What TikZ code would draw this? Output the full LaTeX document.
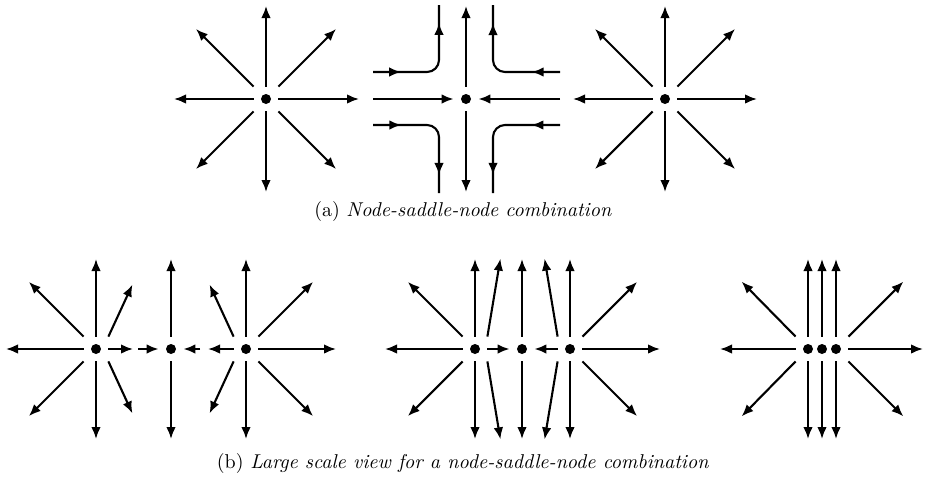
\documentclass[tikz,border=0pt]{standalone}
\usepackage{tikz}
\usetikzlibrary{arrows.meta,decorations.markings,positioning}

\begin{document}
\begin{tikzpicture}[x=0.5pt,y=-0.5pt,
  dot/.style={rectangle, minimum size=12pt, inner sep=0pt,
    path picture={\fill[black] (path picture bounding box.center) circle (2.5pt);}},
  arr/.style={line width=1.05pt, -{Latex[length=6pt,width=4.8pt]}},
  flow/.style={line width=1.05pt, rounded corners=6pt,
    decoration={markings,
      mark=at position 0.22 with {\arrow{Latex[length=6pt,width=4.8pt]}},
      mark=at position 0.86 with {\arrow{Latex[length=6pt,width=4.8pt]}}},
    postaction=decorate},
  comment/.style={rectangle, text centered}]

\useasboundingbox (0,0) rectangle (925,477);

% (a) node - saddle - node
\node[dot] (n1) at (266,99) {};
\foreach \a/\r in {0/93,90/93,180/92,270/93,45/99,135/99,225/99,315/99}
  \draw[arr] (n1) -- ++(\a:\r);

\node[dot] (n2) at (466,99) {};
\coordinate (in2w) at (373,99);
\coordinate (in2e) at (560,99);
\draw[arr] (n2) -- ++(0,-93);
\draw[arr] (n2) -- ++(0,93);
\draw[arr] (in2w) -- (n2);
\draw[arr] (in2e) -- (n2);
% hyperbolic flow round the saddle
\draw[flow] (373,72) -- (439,72) -- (439,5);
\draw[flow] (560,72) -- (493,72) -- (493,5);
\draw[flow] (373,125) -- (439,125) -- (439,193);
\draw[flow] (560,125) -- (493,125) -- (493,193);

\node[dot] (n3) at (665,99) {};
\foreach \a/\r in {0/92,90/93,180/92,270/93,45/99,135/99,225/99,315/99}
  \draw[arr] (n3) -- ++(\a:\r);

\node[comment] (capa) at (463,211) {(a) \textit{Node-saddle-node combination}};

% (b) large scale view
\node[dot] (A) at (96,349) {};
\node[dot] (B) at (171,349) {};
\node[dot] (C) at (246,349) {};
\foreach \a/\r in {180/90,90/90,270/90,135/95,225/95}
  \draw[arr] (A) -- ++(\a:\r);
\draw[arr] (A.north east) -- ++(24,-52);
\draw[arr] (A.south east) -- ++(24,52);
\draw[arr] (A) -- ++(37,0) coordinate (ab);
\draw[arr] ([xshift=2.5pt]ab) -- (B);
\draw[arr] (B) -- ++(0,-90);
\draw[arr] (B) -- ++(0,90);
\foreach \a/\r in {0/90,90/90,270/90,45/95,315/95}
  \draw[arr] (C) -- ++(\a:\r);
\draw[arr] (C.north west) -- ++(-24,-52);
\draw[arr] (C.south west) -- ++(-24,52);
\draw[arr] (C) -- ++(-38,0) coordinate (cb);
\draw[arr] ([xshift=-4pt]cb) -- (B);

\node[dot] (D) at (475,349) {};
\node[dot] (E) at (522,349) {};
\node[dot] (F) at (570,349) {};
\foreach \a/\r in {180/90,90/90,270/90,135/95,225/95}
  \draw[arr] (D) -- ++(\a:\r);
\draw[arr] (D.north east) -- ++(13,-78);
\draw[arr] (D.south east) -- ++(13,78);
\draw[arr] (D) -- (E);
\draw[arr] (E) -- ++(0,-90);
\draw[arr] (E) -- ++(0,90);
\foreach \a/\r in {0/90,90/90,270/90,45/95,315/95}
  \draw[arr] (F) -- ++(\a:\r);
\draw[arr] (F.north west) -- ++(-13,-78);
\draw[arr] (F.south west) -- ++(-13,78);
\draw[arr] (F) -- (E);

\node[dot] (G) at (808,349) {};
\node[dot] (H) at (822,349) {};
\node[dot] (K) at (836,349) {};
\foreach \n in {G,H,K} {
  \draw[arr] (\n) -- ++(0,-90);
  \draw[arr] (\n) -- ++(0,90);
}
\draw[arr] (G) -- ++(-88,0);
\draw[arr] (G.north west) -- ++(-54,-55);
\draw[arr] (G.south west) -- ++(-54,55);
\draw[arr] (K) -- ++(87,0);
\draw[arr] (K.north east) -- ++(55,-55);
\draw[arr] (K.south east) -- ++(55,55);

\node[comment] (capb) at (463,463) {(b) \textit{Large scale view for a node-saddle-node combination}};

\end{tikzpicture}
\end{document}
